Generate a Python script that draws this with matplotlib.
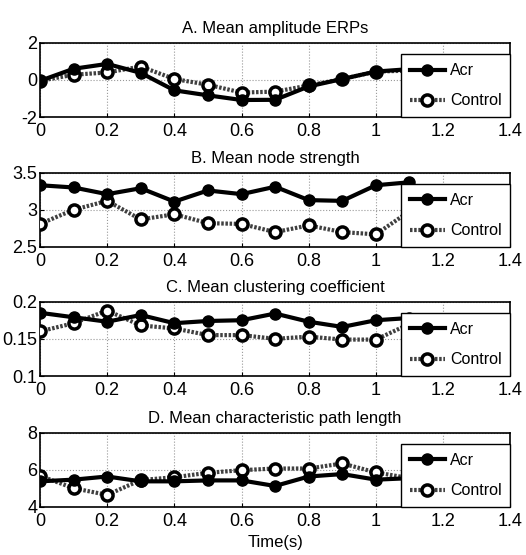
import numpy as np
import matplotlib
matplotlib.use("Agg")
import matplotlib.pyplot as plt

plt.rcParams['font.family'] = ['Liberation Sans', 'DejaVu Sans']

time_s = [0, 0.1, 0.2, 0.3, 0.4, 0.5, 0.6, 0.7, 0.8, 0.9, 1.0, 1.1]

# A. mean amplitude ERPs
erp_acr = [-0.05, 0.6, 0.86, 0.38, -0.56, -0.83, -1.08, -1.07, -0.35, 0.05, 0.45, 0.58]
erp_ctrl = [-0.05, 0.28, 0.4, 0.72, 0.05, -0.26, -0.68, -0.63, -0.3, 0.05, 0.45, 0.5]

# B. mean node strength
str_acr = [3.33, 3.30, 3.21, 3.29, 3.11, 3.26, 3.21, 3.31, 3.13, 3.12, 3.33, 3.37]
str_ctrl = [2.81, 3.00, 3.12, 2.87, 2.94, 2.82, 2.81, 2.70, 2.79, 2.70, 2.67, 2.98]

# C. mean clustering coefficient
clu_acr = [0.185, 0.179, 0.173, 0.182, 0.171, 0.174, 0.175, 0.184, 0.173, 0.166, 0.175, 0.178]
clu_ctrl = [0.160, 0.171, 0.188, 0.168, 0.164, 0.155, 0.155, 0.150, 0.153, 0.149, 0.149, 0.170]

# D. mean characteristic path length
pl_acr = [5.38, 5.47, 5.64, 5.38, 5.38, 5.43, 5.43, 5.13, 5.64, 5.77, 5.47, 5.55]
pl_ctrl = [5.68, 5.01, 4.65, 5.45, 5.60, 5.84, 5.98, 6.07, 6.07, 6.34, 5.86, 5.55]

titles = ["A. Mean amplitude ERPs", "B. Mean node strength",
          "C. Mean clustering coefficient", "D. Mean characteristic path length"]
ylims = [(-2, 2), (2.5, 3.5), (0.1, 0.2), (4, 8)]
yticks = [[-2, 0, 2], [2.5, 3, 3.5], [0.1, 0.15, 0.2], [4, 6, 8]]
yticklabels = [["-2", "0", "2"], ["2.5", "3", "3.5"], ["0.1", "0.15", "0.2"], ["4", "6", "8"]]
data = [(erp_acr, erp_ctrl), (str_acr, str_ctrl), (clu_acr, clu_ctrl), (pl_acr, pl_ctrl)]

fig = plt.figure(figsize=(5.26, 5.55), dpi=100)
bottoms = [0.789, 0.555, 0.3225, 0.0865]

for i in range(4):
    ax = fig.add_axes([0.076, bottoms[i], 0.894, 0.134])
    acr, ctrl = data[i]
    ax.plot(time_s, ctrl, color='0.25', linestyle=(0, (0.6, 0.4)), linewidth=3,
            marker='o', markersize=8, markerfacecolor='white', markeredgecolor='black',
            markeredgewidth=2.5, label='Control', zorder=3)
    ax.plot(time_s, acr, color='black', linestyle='-', linewidth=3,
            marker='o', markersize=8, markerfacecolor='black', markeredgecolor='black',
            label='Acr', zorder=4)
    ax.set_xlim(0, 1.4)
    ax.set_ylim(*ylims[i])
    ax.set_xticks(np.arange(0, 1.41, 0.2))
    ax.set_xticklabels(["0", "0.2", "0.4", "0.6", "0.8", "1", "1.2", "1.4"])
    ax.set_yticks(yticks[i])
    ax.set_yticklabels(yticklabels[i])
    ax.tick_params(direction='in', labelsize=13, length=3)
    ax.tick_params(axis='x', pad=4)
    ax.tick_params(axis='y', pad=2)
    ax.grid(True, linestyle=':', color='0.6', linewidth=0.8)
    for sp in ax.spines.values():
        sp.set_linewidth(1.2)
    ax.set_title(titles[i], fontsize=12, pad=7)
    handles, labels = ax.get_legend_handles_labels()
    leg = ax.legend(handles[::-1], labels[::-1], loc='lower right', fontsize=11.5,
                    fancybox=False, framealpha=1, edgecolor='black',
                    handlelength=2.2, borderaxespad=0, labelspacing=0.95,
                    handletextpad=0.3, borderpad=0.55)
    leg.get_frame().set_linewidth(1.0)
    leg.set_zorder(10)
    if i == 3:
        ax.set_xlabel("Time(s)", fontsize=12, labelpad=4)

fig.savefig("out.png", dpi=100)
